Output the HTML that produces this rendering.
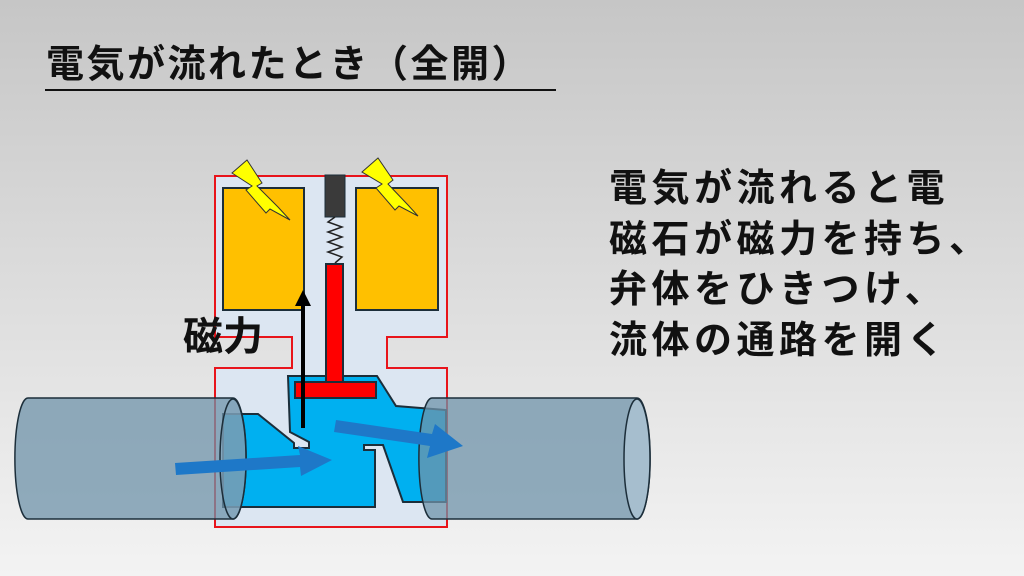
<!DOCTYPE html>
<html><head><meta charset="utf-8"><style>
html,body{margin:0;padding:0}
body{width:1024px;height:576px;overflow:hidden;position:relative;background:linear-gradient(#c6c6c6,#f3f3f3);font-family:"Liberation Sans","Noto Sans CJK JP",sans-serif}
.t{position:absolute;white-space:nowrap;color:#111}
</style></head><body>
<div class="t" style="left:46px;top:40px;font-size:38px;font-weight:bold;letter-spacing:2.5px;line-height:50px">電気が流れたとき（全開）</div>
<div style="position:absolute;left:45px;top:89px;width:511px;height:2px;background:#111"></div>
<div class="t" style="left:609px;top:164px;font-size:38px;font-weight:bold;letter-spacing:4.5px;line-height:50.5px">電気が流れると電<br>磁石が磁力を持ち、<br>弁体をひきつけ、<br>流体の通路を開く</div>
<svg width="1024" height="576" style="position:absolute;left:0;top:0">
<polygon points="215,176 447,176 447,337 387,337 387,368 447,368 447,527 215,527 215,368 292,368 292,337 215,337" fill="#dce6f2" stroke="#e8141b" stroke-width="2"/>
<rect x="223" y="188" width="81" height="122" fill="#ffc000" stroke="#1c2e3a" stroke-width="2"/>
<rect x="356" y="188" width="82" height="122" fill="#ffc000" stroke="#1c2e3a" stroke-width="2"/>
<rect x="325" y="175" width="20" height="42" fill="#3a3a3a" stroke="#1c2e3a" stroke-width="1"/>
<polyline points="335,217 328,222 342,227 328,232 342,237 328,242 342,247 328,252 342,257 335,263" fill="none" stroke="#222" stroke-width="1.5"/>
<polygon points="223,414 258,414 294,443 294,448 309,448 309,442 290,432 288,376 377,376 396,406 446,410 446,502 403,502 383,445 364,445 364,450 375,450 375,507 223,507" fill="#00b0f0" stroke="#1c2e3a" stroke-width="2"/>
<rect x="326" y="264" width="17" height="118" fill="#ff0000" stroke="#1c2e3a" stroke-width="2"/>
<rect x="295" y="382" width="81" height="16" fill="#ff0000" stroke="#1c2e3a" stroke-width="2"/>
<g fill="#6f93aa" fill-opacity="0.75" stroke="#1c2e3a" stroke-width="1.5">
<path d="M28,398 L233,398 A13,60 0 0 1 233,519 L28,519 A13,60 0 0 1 28,398 Z"/>
<ellipse cx="233" cy="459" rx="13" ry="60" fill="#7fa3bb" fill-opacity="0.5"/>
<path d="M432,398 L637,398 A13,60 0 0 1 637,519 L432,519 A13,60 0 0 1 432,398 Z"/>
<ellipse cx="637" cy="459" rx="13" ry="60" fill="#a8c0d0" fill-opacity="0.9"/>
</g>
<polygon points="175,463 300,455 298,446 332,460 301,476 300,467 176,475" fill="#1e78c8"/>
<polygon points="336,420 432,434 435,424 463,446 427,458 430,446 334,432" fill="#1e78c8"/>
<line x1="303" y1="428" x2="303" y2="305" stroke="#000" stroke-width="4"/>
<polygon points="295,306 303,290 311,306" fill="#000"/>
<polygon points="232,173 247,160 262,183 257,186 278,207 290,220 270,209 266,213 246,190 252,186" fill="#ffff00" stroke="#333" stroke-width="1"/>
<polygon points="362,172 378,158 393,180 388,184 408,205 418,216 399,206 395,210 376,188 382,184" fill="#ffff00" stroke="#333" stroke-width="1"/>
</svg>
<div class="t" style="left:183px;top:312px;font-size:40px;font-weight:bold;line-height:50px">磁力</div>
</body></html>
